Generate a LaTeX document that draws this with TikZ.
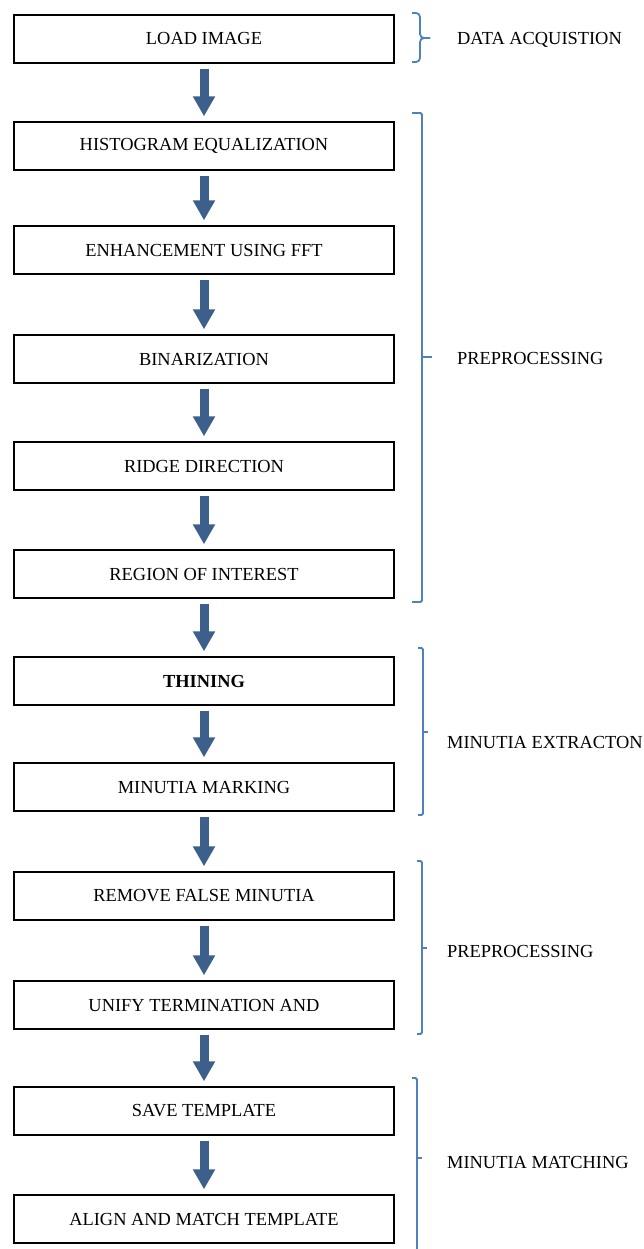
\documentclass[tikz,border=0pt]{standalone}
\usepackage{fontspec}
\setmainfont{Liberation Serif}
\usetikzlibrary{arrows.meta}
\definecolor{arrowblue}{HTML}{3C5F8C}
\definecolor{bracketblue}{HTML}{4F81BD}

\begin{document}
\begin{tikzpicture}[x=1pt, y=-1pt,
  bx/.style={rectangle, draw, line width=1.3pt, minimum width=380pt, minimum height=48pt, inner sep=0pt, font=\fontsize{18.4}{20}\selectfont},
  arr/.style={-{Triangle[width=21pt,length=20pt]}, line width=9pt, arrowblue, shorten <=5pt, shorten >=5pt},
  brk/.style={draw=bracketblue, line width=1.8pt, rounded corners=1.5pt},
  lbl/.style={anchor=west, inner sep=0pt, font=\fontsize{18.4}{20}\selectfont}
]
  \useasboundingbox (0,0) rectangle (644,1249);
  % Flow boxes
  \foreach \i/\y/\t in {1/39/LOAD IMAGE, 2/146/HISTOGRAM EQUALIZATION, 3/250/ENHANCEMENT USING FFT,
    4/359/BINARIZATION, 5/466/RIDGE DIRECTION, 6/574/REGION OF INTEREST, 7/681/{\textbf{THINING}},
    8/787/MINUTIA MARKING, 9/896/REMOVE FALSE MINUTIA, 10/1005/UNIFY TERMINATION AND,
    11/1111/SAVE TEMPLATE, 12/1219/ALIGN AND MATCH TEMPLATE}{\node[bx] (b\i) at (204,\y) {\t};}
  \foreach \a/\b in {1/2,2/3,3/4,4/5,5/6,6/7,7/8,8/9,9/10,10/11,11/12}{\draw[arr] (b\a.south) -- (b\b.north);}
  % Stage brackets
  \draw[brk, rounded corners=4pt] (412,13) -- (420,13) -- (420,38) -- (430,38);
  \draw[brk, rounded corners=4pt] (430,38) -- (420,38) -- (420,62) -- (412,62);
  \draw[brk] (412,113) -| (422,602) -- (412,602);
  \draw[brk] (422,357) -- (432,357);
  \draw[brk] (418,648) -| (423,815) -- (418,815);
  \draw[brk] (423,732) -- (428,732);
  \draw[brk] (417,861) -| (422,1034) -- (417,1034);
  \draw[brk] (422,948) -- (427,948);
  \draw[brk] (412,1078) -| (417,1252);
  \draw[brk] (417,1158) -- (422,1158);
  % Stage labels
  \node[lbl] (s1) at (457,40) {DATA ACQUISTION};
  \node[lbl] (s2) at (457,358) {PREPROCESSING};
  \node[lbl] (s3) at (447,742) {MINUTIA EXTRACTON};
  \node[lbl] (s4) at (447,951) {PREPROCESSING};
  \node[lbl] (s5) at (447,1162) {MINUTIA MATCHING};
\end{tikzpicture}
\end{document}
